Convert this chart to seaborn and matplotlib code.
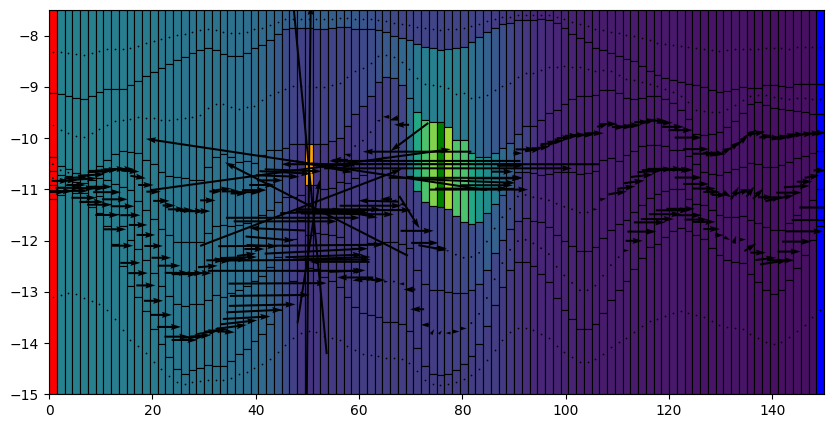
import numpy as np
import matplotlib
matplotlib.use("Agg")
import matplotlib.pyplot as plt
from matplotlib.colors import Normalize
import seaborn as sns

sns.set_style("ticks", {"axes.edgecolor": "k", "xtick.color": "k", "ytick.color": "k",
                        "text.color": "k", "axes.labelcolor": "k", "font.family": ["DejaVu Sans"]})

top_elev = -7.5
bottom_elev = -15.0
col_width = 1.5

z1 = [-9.12,-9.14,-9.18,-9.22,-9.24,-9.17,-9.10,-9.04,-9.04,-9.04,
      -8.97,-8.89,-8.79,-8.71,-8.63,-8.56,-8.48,-8.42,-8.34,-8.28,
      -8.24,-8.28,-8.36,-8.40,-8.40,-8.34,-8.24,-8.19,-8.09,-7.97,
      -7.87,-7.85,-7.85,-7.85,-7.87,-7.87,-7.85,-7.83,-7.83,-7.87,
      -7.87,-7.87,-7.89,-7.93,-8.01,-8.05,-8.09,-8.17,-8.22,-8.24,
      -8.28,-8.26,-8.24,-8.22,-8.13,-8.03,-7.93,-7.85,-7.78,-7.76,
      -7.70,-7.70,-7.69,-7.68,-7.70,-7.76,-7.85,-7.97,-8.05,-8.13,
      -8.24,-8.28,-8.34,-8.40,-8.46,-8.50,-8.60,-8.69,-8.77,-8.83,
      -8.87,-8.91,-8.95,-8.97,-9.01,-9.06,-9.10,-9.08,-9.04,-9.01,
      -9.03,-9.03,-8.97,-8.97,-8.99,-9.01,-8.95,-8.95,-8.95,-8.95]
z2 = [-10.37,-10.54,-10.61,-10.69,-10.72,-10.62,-10.54,-10.43,-10.31,-10.26,
      -10.27,-10.29,-10.43,-10.51,-10.67,-10.74,-10.76,-10.78,-10.82,-10.82,
      -10.57,-10.37,-10.31,-10.37,-10.47,-10.45,-10.49,-10.33,-10.24,-10.24,
      -10.20,-10.12,-10.12,-10.12,-10.12,-10.12,-10.06,-10.00,-9.77,-9.53,
      -9.38,-9.18,-8.91,-8.81,-8.83,-8.97,-9.22,-9.49,-9.65,-9.69,
      -9.68,-9.79,-10.03,-10.03,-10.29,-10.37,-10.37,-10.29,-10.20,-10.10,
      -9.92,-9.77,-9.77,-9.65,-9.51,-9.45,-9.33,-9.24,-9.18,-9.18,
      -9.16,-9.06,-9.06,-9.12,-9.22,-9.24,-9.22,-9.18,-9.18,-9.24,
      -9.32,-9.45,-9.63,-9.92,-9.94,-9.92,-9.88,-9.79,-9.67,-9.51,
      -9.34,-9.29,-9.36,-9.42,-9.44,-9.45,-9.47,-9.50,-9.53,-9.53]
z3 = [-10.65,-10.72,-10.74,-10.85,-10.88,-10.82,-10.77,-10.82,-10.90,-10.95,
      -11.02,-11.23,-11.40,-11.58,-11.78,-11.89,-12.02,-12.03,-12.03,-12.03,
      -11.86,-11.71,-11.69,-11.71,-11.69,-11.66,-11.54,-11.50,-11.41,-11.24,
      -11.14,-11.14,-11.11,-10.91,-10.91,-11.00,-10.98,-10.85,-10.88,-10.78,
      -10.72,-10.59,-10.41,-10.36,-10.43,-10.51,-10.74,-11.04,-11.24,-11.32,
      -11.34,-11.39,-11.52,-11.64,-11.68,-11.64,-11.47,-11.28,-11.11,-10.98,
      -10.67,-10.67,-10.69,-10.72,-10.70,-10.67,-10.67,-10.67,-10.70,-10.69,
      -10.65,-10.43,-10.39,-10.45,-10.33,-10.26,-10.16,-10.14,-10.14,-10.16,
      -10.24,-10.24,-10.35,-10.51,-10.67,-10.70,-10.72,-10.67,-10.61,-10.57,
      -10.49,-10.51,-10.57,-10.57,-10.53,-10.47,-10.39,-10.35,-10.29,-10.26]
z4 = [-10.91,-10.95,-10.91,-10.98,-11.08,-11.14,-11.13,-11.29,-11.49,-11.71,
      -11.99,-12.16,-12.38,-12.63,-12.89,-13.09,-13.24,-13.28,-13.24,-13.24,
      -13.15,-13.06,-13.10,-13.02,-12.97,-12.89,-12.79,-12.70,-12.51,-12.32,
      -12.11,-11.97,-11.60,-11.89,-11.86,-11.88,-11.90,-11.93,-12.08,-12.15,
      -12.09,-12.05,-12.05,-12.02,-12.02,-12.07,-12.15,-12.58,-12.85,-12.96,
      -12.96,-13.01,-13.03,-13.03,-12.96,-12.84,-12.57,-12.25,-11.98,-11.78,
      -11.61,-11.55,-11.62,-11.64,-11.73,-11.89,-12.01,-12.11,-12.21,-12.21,
      -12.13,-11.95,-11.80,-11.68,-11.60,-11.45,-11.31,-11.16,-11.09,-11.04,
      -11.00,-11.00,-11.19,-11.28,-11.30,-11.40,-11.50,-11.54,-11.54,-11.52,
      -11.60,-11.66,-11.74,-11.80,-11.80,-11.66,-11.50,-11.35,-11.21,-11.00]
z5 = [-11.19,-11.12,-11.03,-11.08,-11.25,-11.35,-11.47,-11.71,-12.07,-12.49,
      -12.88,-13.11,-13.37,-13.72,-14.01,-14.28,-14.51,-14.60,-14.53,-14.48,
      -14.43,-14.45,-14.45,-14.35,-14.22,-14.12,-13.96,-13.82,-13.63,-13.35,
      -13.07,-12.79,-12.59,-12.53,-12.55,-12.72,-12.79,-12.90,-13.11,-13.29,
      -13.42,-13.46,-13.49,-13.58,-13.58,-13.62,-13.76,-14.10,-14.44,-14.60,
      -14.62,-14.60,-14.52,-14.40,-14.26,-14.02,-13.67,-13.26,-12.90,-12.58,
      -12.41,-12.42,-12.49,-12.66,-12.80,-13.13,-13.35,-13.54,-13.73,-13.73,
      -13.63,-13.42,-13.16,-12.97,-12.79,-12.56,-12.34,-12.13,-12.07,-11.93,
      -11.82,-11.76,-11.82,-11.90,-11.97,-12.15,-12.29,-12.38,-12.42,-12.44,
      -12.66,-12.81,-12.97,-13.05,-12.97,-12.77,-12.54,-12.29,-11.99,-11.71]

head1 = [.40,.40,.40,.39,.39,.39,.39,.38,.38,.38,
         .38,.37,.37,.37,.36,.36,.36,.35,.35,.35,
         .34,.34,.33,.33,.33,.32,.32,.31,.30,.29,
         .27,.27,.27,.27,.27,.27,.26,.25,.25,.24,
         .23,.22,.21,.20,.19,.18,.18,.17,.17,.17,
         .17,.17,.17,.17,.17,.17,.16,.15,.14,.13,
         .12,.10,.09,.08,.08,.07,.07,.07,.06,.06,
         .06,.05,.05,.05,.05,.05,.04,.04,.04,.04,
         .04,.04,.03,.03,.03,.03,.03,.03,.03,.03,
         .02,.02,.02,.02,.02,.02,.02,.02,.02,.02]
head2 = [.40,.40,.40,.39,.39,.39,.39,.38,.38,.38,
         .38,.37,.37,.37,.36,.36,.36,.35,.35,.35,
         .34,.34,.33,.33,.33,.32,.32,.30,.28,.24,
         .20,.17,.16,.16,.16,.16,.17,.17,.17,.18,
         .19,.20,.22,.24,.26,.29,.31,.36,.38,.39,
         .39,.39,.38,.36,.33,.30,.27,.24,.21,.18,
         .15,.13,.11,.10,.09,.08,.07,.07,.06,.06,
         .06,.05,.05,.05,.05,.05,.04,.04,.04,.04,
         .04,.04,.03,.03,.03,.03,.03,.03,.03,.03,
         .02,.02,.02,.02,.02,.02,.02,.02,.02,.02]
head3 = [.40,.40,.40,.39,.39,.39,.39,.38,.38,.38,
         .38,.37,.37,.37,.36,.36,.36,.35,.35,.35,
         .34,.34,.33,.33,.33,.32,.32,.30,.28,.24,
         .20,.16,.13,.13,.13,.13,.13,.13,.13,.14,
         .14,.15,.15,.16,.17,.18,.33,.55,.66,.75,
         .80,.80,.67,.66,.55,.48,.44,.39,.30,.26,
         .20,.16,.12,.09,.08,.07,.07,.07,.06,.06,
         .06,.05,.05,.05,.05,.05,.04,.04,.04,.04,
         .04,.04,.03,.03,.03,.03,.03,.03,.03,.03,
         .02,.02,.02,.02,.02,.02,.02,.02,.02,.02]
head4 = [.40,.40,.40,.39,.39,.39,.39,.38,.38,.38,
         .38,.37,.37,.37,.36,.36,.36,.35,.35,.35,
         .34,.34,.33,.33,.33,.32,.32,.30,.28,.24,
         .20,.16,.13,.12,.13,.13,.14,.14,.14,.14,
         .14,.14,.15,.15,.15,.15,.15,.16,.16,.17,
         .17,.17,.18,.19,.20,.22,.26,.27,.23,.19,
         .15,.12,.10,.08,.08,.07,.07,.07,.06,.06,
         .06,.05,.05,.05,.05,.05,.04,.04,.04,.04,
         .04,.04,.03,.03,.03,.03,.03,.03,.03,.03,
         .02,.02,.02,.02,.02,.02,.02,.02,.02,.02]
head5 = [.40,.40,.40,.39,.39,.39,.39,.38,.38,.38,
         .38,.37,.37,.37,.36,.36,.36,.35,.35,.35,
         .34,.34,.33,.33,.33,.32,.32,.30,.28,.24,
         .20,.16,.13,.12,.13,.13,.14,.14,.14,.15,
         .15,.15,.15,.15,.15,.15,.15,.15,.15,.15,
         .16,.16,.16,.16,.16,.17,.18,.18,.17,.16,
         .12,.10,.09,.08,.08,.07,.07,.07,.06,.06,
         .06,.05,.05,.05,.05,.05,.04,.04,.04,.04,
         .04,.04,.03,.03,.03,.03,.03,.03,.03,.03,
         .02,.02,.02,.02,.02,.02,.02,.02,.02,.02]
head6 = [.40,.40,.40,.39,.39,.39,.39,.38,.38,.38,
         .38,.37,.37,.37,.36,.36,.36,.35,.35,.35,
         .34,.34,.33,.33,.33,.32,.32,.30,.28,.24,
         .20,.16,.13,.12,.13,.13,.14,.14,.14,.15,
         .15,.15,.15,.15,.15,.15,.15,.15,.15,.15,
         .15,.15,.15,.15,.15,.15,.15,.15,.14,.13,
         .12,.10,.09,.08,.08,.07,.07,.07,.06,.06,
         .06,.05,.05,.05,.05,.05,.04,.04,.04,.04,
         .04,.04,.03,.03,.03,.03,.03,.03,.03,.03,
         .02,.02,.02,.02,.02,.02,.02,.02,.02,.02]

# flow components of the three layers that show arrows (data units)
u3 = [0,0,0,4.5,5,5,4.5,4.5,4.5,4.5,
      3.5,3,3,2.8,3.2,2.5,3.5,3.5,4.8,4,
      3,2.4,3,3.5,3,5.5,4.8,5,5,8.5,
      10,11,58,-7,-66,11,8,-3.2,-1.3,0,
      0,0,-.7,-1.3,-1.8,-2.9,-7.3,-21,-37,-34,
      -61.6,48,26,20,14,19,10,10.5,4.2,5,
      1.8,3.9,3.2,3.5,3.2,3,3,2.8,2.6,2.5,
      3.2,2.3,2.6,2.6,2.6,2.6,2.9,2.6,3.5,2.9,
      4.2,4.7,5.3,5,4.5,3.2,2.3,2,2,2.2,
      2.5,2.8,2.5,3,3,3,3.2,3.5,3.5,2.5]
v3 = [0,0,0,.03,.03,.03,.02,.02,.01,0,
      -.02,-.05,0,0,0,0,0,0,0,0,
      0,0,.03,0,0,0,0,0,0,-.03,
      -.05,-.04,.8,7.4,1,-.22,-.05,0,.03,0,
      0,0,0,0,-.05,0,-.55,0,0,0,
      0,0,0,-.08,0,0,0,0,0,0,
      0,0,.05,.05,.03,.03,0,0,0,0,
      0,.07,0,0,0,0,0,.05,0,0,
      0,0,0,0,0,-.05,-.04,.1,.15,.2,
      .15,.05,.05,-.05,0,0,0,.03,0,0]
u4 = [0,3.5,3.5,3.7,4.5,5,5,5.4,5,4.6,
      3.9,3.6,3.6,3.6,3.8,4.4,4.7,5,4.5,4.5,
      3.8,3.6,3,6.5,7,3.7,3.9,6,9.4,-11,
      20,26,39,.8,-35.4,17,14,16,18,8.7,
      18.8,12,-7.7,-2.3,-1,-1,3.9,6.4,5.3,5.5,
      2.5,.5,0,0,0,0,0,0,0,0,
      0,0,0,0,0,0,0,0,0,0,
      .8,1.2,1,3.2,3.5,4,4.4,4.7,6,6.8,
      7,5,5.3,5,4.6,3.2,3,1.6,1.5,3,
      1.5,2,3,3.2,5,5,5,3,3,2.5]
v4 = [0,0,0,0,0,0,0,0,0,0,
      0,0,0,0,0,0,0,0,0,0,
      .03,0,0,0,.02,.05,0,-.03,-.08,.05,
      0,0,1.5,8,1.82,.05,-.03,0,-.02,-.18,
      0,0,.02,0,0,0,-.63,0,0,-.1,
      0,0,0,0,0,0,0,0,0,0,
      0,0,0,0,0,0,0,0,0,0,
      0,.02,0,.05,.05,.05,.05,.03,.02,0,
      0,0,0,0,0,0,0,-.1,.25,.1,
      .2,.2,0,.1,.1,0,.03,0,.05,0]
u5 = [5,4.7,5,4.5,4.8,4.7,4.8,4.6,4.4,4.1,
      3.9,3.8,3.7,3.7,4.1,4.6,4.8,5,4.8,4.2,
      4.1,4.5,4.4,6,7.1,9.2,10.8,12.9,15.5,19,
      30,30,32,4.3,20,15,15,-11.6,7,-7,
      -4,1.6,2.7,.8,.3,-1,-2.3,-2.7,-1.6,.6,
      .6,-1,1.4,1.2,.3,0,0,0,0,0,
      0,0,0,0,0,0,0,0,0,0,
      0,0,0,0,1,3.3,5.6,6.1,6.4,6.3,
      6.6,5.5,5.2,4.5,4.5,3.2,1.7,1.1,.5,1.3,
      2.3,3,4,5.3,5,4.5,5.7,7.3,8,8]
v5 = [0,0,0,0,0,0,0,0,0,0,
      0,0,0,0,0,0,0,0,.03,.03,
      .07,.05,-.03,.08,.08,.05,.05,.03,.02,.01,
      0,.02,.03,2.8,.1,.05,.05,0,.03,0,
      -.05,-.03,0,0,0,0,0,0,0,.1,
      .07,0,0,0,0,0,0,0,0,0,
      0,0,0,0,0,0,0,0,0,0,
      0,0,0,0,0,0,0,0,0,0,
      0,0,0,0,0,0,0,-.05,.15,0,
      .15,0,.05,.08,0,0,0,0,0,0]

layer_heads = [head1, head2, head3, head4, head5, head6]
fixed_cols = {0: "red", 99: "blue"}
fixed_cells = {(2, 33): "orange", (2, 50): "green"}

x = (np.arange(len(z1)) + 0.5) * col_width
surf = np.array([np.full(len(z1), top_elev), z1, z2, z3, z4, z5, np.full(len(z1), bottom_elev)])
mids = (surf[:-1] + surf[1:]) / 2

cmap = sns.color_palette("viridis", as_cmap=True)
norm = Normalize(-0.02, 0.93)

fig = plt.figure(figsize=(8.34, 4.28), dpi=100)
ax = fig.add_axes([49 / 834, 1 - 394.3 / 428, 775 / 834, 384.3 / 428])

for k, heads in enumerate(layer_heads):
    colors = [cmap(norm(h)) for h in heads]
    for c, col in fixed_cols.items():
        colors[c] = col
    for (lay, c), col in fixed_cells.items():
        if lay == k:
            colors[c] = col
    ax.bar(x, surf[k] - surf[k + 1], bottom=surf[k + 1], width=col_width,
           color=colors, edgecolor="k", linewidth=0.8)

# near-still cells in the layers without visible flow
for k in (0, 1, 5):
    sns.scatterplot(x=x, y=mids[k], s=1.5, color="k", linewidth=0, ax=ax, legend=False, zorder=4)

for k, u, v in ((2, u3, v3), (3, u4, v4), (4, u5, v5)):
    ax.quiver(x, mids[k], u, v, angles="xy", scale_units="xy", scale=1, pivot="mid",
              width=0.0026, color="k", zorder=5)

ax.set_xlim(0, 150)
ax.set_ylim(bottom_elev, top_elev)
ax.set_xticks(range(0, 141, 20))
ax.set_yticks(range(-15, -7))
ax.set_yticklabels([f"\u2212{abs(t)}" for t in range(-15, -7)])
sns.despine(ax=ax, top=False, right=False)
fig.savefig("out.png", dpi=100)
